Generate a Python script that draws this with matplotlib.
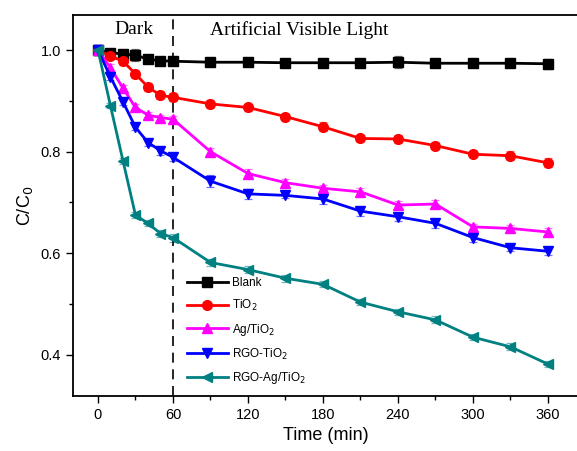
import matplotlib
matplotlib.use("Agg")
import matplotlib.pyplot as plt
from matplotlib.colors import to_rgba

# time points (min)
t = [0, 10, 20, 30, 40, 50, 60, 90, 120, 150, 180, 210, 240, 270, 300, 330, 360]

blank = [1.0, 0.995, 0.992, 0.990, 0.982, 0.979, 0.978, 0.976, 0.976, 0.975,
         0.975, 0.975, 0.976, 0.974, 0.974, 0.974, 0.973]
tio2 = [1.0, 0.988, 0.978, 0.953, 0.927, 0.911, 0.907, 0.894, 0.887, 0.869,
        0.849, 0.826, 0.825, 0.812, 0.795, 0.792, 0.778]
ag_tio2 = [1.0, 0.965, 0.925, 0.887, 0.872, 0.867, 0.864, 0.800, 0.757, 0.739,
           0.728, 0.721, 0.695, 0.697, 0.652, 0.649, 0.642]
rgo_tio2 = [1.0, 0.947, 0.898, 0.848, 0.818, 0.802, 0.789, 0.742, 0.717, 0.714,
            0.707, 0.683, 0.672, 0.659, 0.631, 0.611, 0.604]
rgo_ag_tio2 = [1.0, 0.890, 0.782, 0.675, 0.659, 0.639, 0.631, 0.582, 0.568, 0.551,
               0.539, 0.504, 0.485, 0.469, 0.435, 0.416, 0.382]

err_blank = [0.008, 0.004, 0.006, 0.012, 0.006, 0.006, 0.008, 0.004, 0.006, 0.006,
             0.006, 0.007, 0.012, 0.006, 0.006, 0.007, 0.010]
err_tio2 = [0.010, 0.006, 0.007, 0.008, 0.008, 0.008, 0.008, 0.008, 0.007, 0.006,
            0.009, 0.007, 0.008, 0.007, 0.006, 0.009, 0.009]
err_ag = [0.010, 0.007, 0.007, 0.006, 0.006, 0.006, 0.007, 0.007, 0.008, 0.007,
          0.006, 0.007, 0.008, 0.008, 0.006, 0.006, 0.007]
err_rgo = [0.010, 0.006, 0.007, 0.006, 0.006, 0.008, 0.008, 0.012, 0.010, 0.006,
           0.010, 0.009, 0.008, 0.009, 0.008, 0.007, 0.008]
err_rgoag = [0.010, 0.005, 0.006, 0.006, 0.006, 0.006, 0.008, 0.007, 0.007, 0.007,
             0.006, 0.006, 0.006, 0.007, 0.006, 0.007, 0.006]

labels = ["Blank", "TiO$_2$", "Ag/TiO$_2$", "RGO-TiO$_2$", "RGO-Ag/TiO$_2$"]
series = [blank, tio2, ag_tio2, rgo_tio2, rgo_ag_tio2]
errors = [err_blank, err_tio2, err_ag, err_rgo, err_rgoag]
colors = ["#000000", "#ff0000", "#ff00ff", "#0000ff", "#008080"]
markers = ["s", "o", "^", "v", "<"]

plt.rcParams['font.family'] = ['Liberation Sans', 'DejaVu Sans']

fig = plt.figure(figsize=(5.77, 4.51), dpi=100)
ax = fig.add_axes([0.1265, 0.122, 0.8774, 0.8447])

handles = []
for y, e, lab, c, m in zip(series, errors, labels, colors, markers):
    eb = ax.errorbar(t, y, yerr=e, color=c, marker=m, markersize=7, linewidth=2,
                     ecolor=to_rgba(c, 0.55), elinewidth=0.9, capsize=3,
                     capthick=0.9, label=lab)
    handles.append(eb.lines[0])

ax.axvline(60, color="black", linestyle=(0, (6, 4)), linewidth=1.2)

ax.set_xlim(-20, 385)
ax.set_ylim(0.3193, 1.0689)
ax.set_xticks(range(0, 361, 60))
ax.set_xticks(range(30, 361, 60), minor=True)
ax.set_yticks([0.4, 0.6, 0.8, 1.0])
ax.set_yticklabels(["0.4", "0.6", "0.8", "1.0"])
ax.set_yticks([0.5, 0.7, 0.9], minor=True)
ax.tick_params(direction="out", labelsize=10.5, length=5, width=1)
ax.tick_params(which="minor", direction="out", length=3, width=1)
ax.tick_params(top=False, right=False)
for s in ax.spines.values():
    s.set_linewidth(1.3)

ax.set_xlabel("Time (min)", fontsize=13)
ax.set_ylabel("C/C$_0$", fontsize=13)

ax.text(28.5, 1.04, "Dark", family="Liberation Serif", fontsize=14,
        ha="center", va="center")
ax.text(161, 1.04, "Artificial Visible Light", family="Liberation Serif",
        fontsize=14, ha="center", va="center")

ax.legend(handles, labels, loc="center left", bbox_to_anchor=(0.205, 0.169),
          frameon=False, fontsize=8.5, handlelength=3.4, labelspacing=0.75,
          handletextpad=0.4)

fig.savefig("out.png", dpi=100)
